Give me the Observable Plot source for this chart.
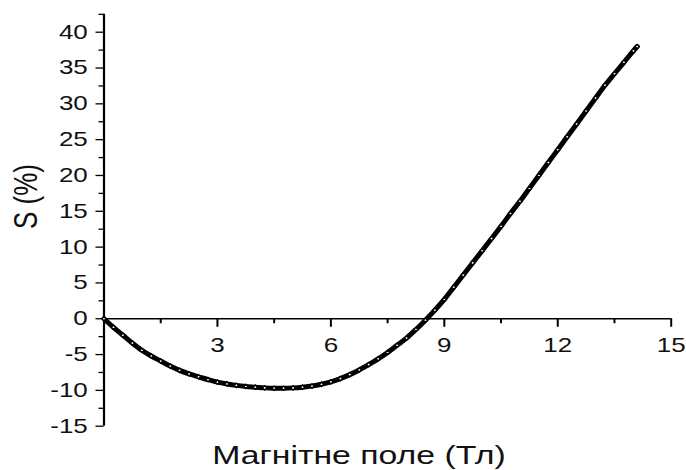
<!DOCTYPE html>
<html>
<head>
<meta charset="utf-8">
<script src="https://cdn.jsdelivr.net/npm/d3@7"></script>
<script src="https://cdn.jsdelivr.net/npm/@observablehq/plot@0.6"></script>
<style>
  html, body { margin: 0; padding: 0; background: #fff; }
  svg { display: block; }
</style>
</head>
<body>
<div id="chart"></div>
<script>
// Magnetic field (T)
const fieldT = [0, 0.25, 0.5, 0.75, 1.0, 1.25, 1.5, 1.75, 2.0, 2.25, 2.5, 2.75, 3.0, 3.25, 3.5, 3.75,
  4.0, 4.25, 4.5, 4.75, 5.0, 5.25, 5.5, 5.75, 6.0, 6.25, 6.5, 6.75, 7.0, 7.25, 7.5, 7.75,
  8.0, 8.25, 8.5, 8.75, 9.0, 9.25, 9.5, 9.75, 10.0, 10.25, 10.5, 10.75, 11.0, 11.25, 11.5, 11.75,
  12.0, 12.25, 12.5, 12.75, 13.0, 13.25, 13.5, 13.75, 14.0, 14.1];
// S (%)
const sPercent = [0, -1.2, -2.3, -3.4, -4.4, -5.2, -5.9, -6.6, -7.2, -7.7, -8.1, -8.5, -8.85, -9.1, -9.3, -9.45,
  -9.55, -9.65, -9.7, -9.7, -9.65, -9.55, -9.4, -9.15, -8.8, -8.35, -7.8, -7.15, -6.4, -5.6, -4.7, -3.7,
  -2.7, -1.5, -0.2, 1.2, 2.7, 4.4, 6.1, 7.8, 9.5, 11.2, 12.9, 14.7, 16.4, 18.2, 20.0, 21.8,
  23.6, 25.4, 27.2, 29.0, 30.8, 32.6, 34.2, 35.8, 37.4, 38.0];

const xMajor = [3, 6, 9, 12, 15];
const xMinor = [1.5, 4.5, 7.5, 10.5, 13.5];
const yMajor = [-15, -10, -5, 0, 5, 10, 15, 20, 25, 30, 35, 40];
const yMinor = [-12.5, -7.5, -2.5, 2.5, 7.5, 12.5, 17.5, 22.5, 27.5, 32.5, 37.5, 42.5];
const xTitle = "Магнітне поле (Тл)";
const yTitle = "S (%)";

const data = fieldT.map((x, i) => ({x, y: sPercent[i]}));

const svg = Plot.plot({
  width: 686,
  height: 470,
  marginLeft: 103.5,
  marginRight: 15.3,
  marginTop: 13.8,
  marginBottom: 44.3,
  x: {domain: [0, 15], axis: null},
  y: {domain: [-15, 42.5], axis: null},
  style: {fontFamily: "'Liberation Sans', Arial, sans-serif", fontSize: "20px", color: "#000", background: "#fff"},
  marks: [
    // y axis line and ticks
    Plot.ruleX([0], {stroke: "#000", strokeWidth: 2.2}),
    Plot.ruleY(yMajor, {y: d => d, x1: 0, x2: 0, insetLeft: -8, insetRight: 0, stroke: "#000", strokeWidth: 1.3}),
    Plot.ruleY(yMinor, {y: d => d, x1: 0, x2: 0, insetLeft: -5, insetRight: 0, stroke: "#000", strokeWidth: 1.3}),
    Plot.text(yMajor, {x: 0, y: d => d, text: d => String(d), textAnchor: "end", dx: -16.2, fontSize: 20, fill: "#111"}),
    // x axis line at y = 0 and ticks
    Plot.ruleY([0], {stroke: "#000", strokeWidth: 1.4}),
    Plot.ruleX(xMajor, {x: d => d, y1: 0, y2: 0, insetTop: 0, insetBottom: -8.5, stroke: "#000", strokeWidth: 2}),
    Plot.ruleX(xMinor, {x: d => d, y1: 0, y2: 0, insetTop: 0, insetBottom: -5, stroke: "#000", strokeWidth: 2}),
    Plot.text(xMajor, {x: d => d, y: 0, text: d => String(d), lineAnchor: "top", dy: 19, fontSize: 20, fill: "#111"}),
    // titles
    Plot.text([xTitle], {frameAnchor: "bottom", text: d => d, lineAnchor: "bottom", dx: -28.6, dy: 37.3, fontSize: 26, fill: "#111"}),
    Plot.text([yTitle], {frameAnchor: "left", text: d => d, rotate: -90, lineAnchor: "bottom", dx: -67.5, dy: 8.75, fontSize: 26, fill: "#111"}),
    // data
    Plot.line(data, {x: "x", y: "y", stroke: "#000", strokeWidth: 5, curve: "catmull-rom"}),
    Plot.dot(data, {x: "x", y: "y", symbol: "diamond2", r: 1.9, fill: "#fff", stroke: "#000", strokeWidth: 1.4})
  ]
});

// the reference's lettering is horizontally stretched; widen text around its anchor
svg.querySelectorAll("text").forEach(t => {
  const tr = t.getAttribute("transform");
  if (tr && /translate\(/.test(tr)) {
    t.setAttribute("transform", tr.replace(/translate\([^)]*\)/, m => m + " scale(1.3,1)"));
  }
});

document.getElementById("chart").appendChild(svg);
</script>
</body>
</html>
